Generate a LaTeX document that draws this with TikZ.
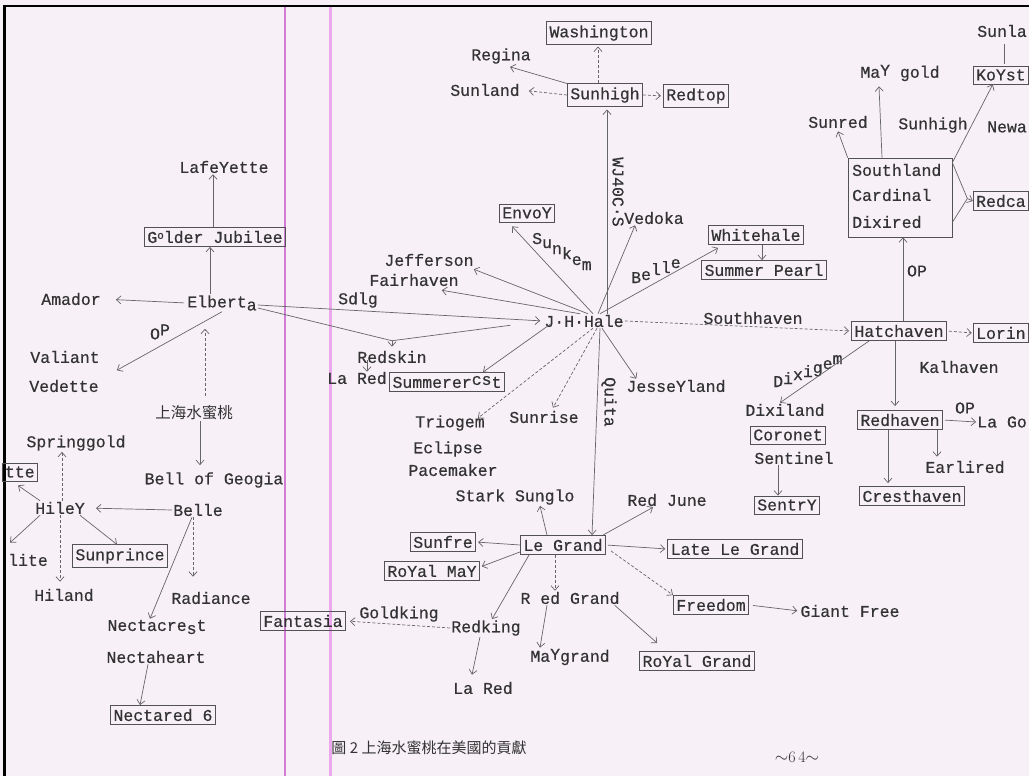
\documentclass[tikz,border=0pt]{standalone}
\usepackage{fontspec}
\usetikzlibrary{arrows.meta}
\newfontfamily\tw[FakeBold=0.5]{Liberation Mono}
\newfontfamily\cjk{Noto Sans CJK TC}
\definecolor{bg}{HTML}{F7F0F7}
\definecolor{ink}{HTML}{333333}
\definecolor{lineink}{HTML}{666666}
\definecolor{pinkthin}{HTML}{D27CD6}
\definecolor{pinkthick}{HTML}{EBA8EC}
\tikzset{
 t/.style={font=\tw\fontsize{16.5}{18}\selectfont, text=ink, inner sep=1pt},
 bx/.style={t, draw=ink!85, line width=0.7pt, inner xsep=3pt, inner ysep=3.5pt},
 ln/.style={draw=lineink, line width=0.7pt},
 e/.style={ln, -{Straight Barb[length=4.5pt,width=8pt]}},
 de/.style={e, dash pattern=on 3pt off 2pt},
 dl/.style={ln, dash pattern=on 3pt off 2pt},
 cj/.style={font=\cjk\fontsize{15.5}{17}\selectfont, text=ink, inner sep=1pt},
}
\begin{document}
\begin{tikzpicture}[x=1pt,y=-1pt]
\useasboundingbox (0,0) rectangle (1029,776);
\fill[bg] (0,0) rectangle (1029,776);
% frame and pink margin lines
\draw[line width=2.5pt] (4.5,776) -- (4.5,6) -- (1029,6);
\draw[line width=1.2pt, pinkthin] (285,7) -- (285,776);
\draw[line width=3pt, pinkthick] (330,7) -- (330,776);

% ---------- left part ----------
\node[t] (lafayette) at (224,167) {LafeYette};
\node[bx] (golden) at (215,237) {G\raisebox{4pt}{\fontsize{11}{11}\selectfont o}lder Jubilee};
\node[t] (amador) at (71,299) {Amador};
\node[t] (elberta) at (222,303) {Elbert\raisebox{-3pt}{a}};
\node[t] (valiant) at (65,357) {Valiant};
\node[t] (vedette) at (64,386) {Vedette};
\node[cj] (shanghai) at (194,413) {上海水蜜桃};
\node[t] (bellgeo) at (214,480) {Bell of Geogia};
\node[t] (springgold) at (76,443) {Springgold};
\node[bx, anchor=east] (tte) at (38,472) {tte};
\node[t] (hiley) at (60,508) {HileY};
\node[t] (belle) at (198,510) {Belle};
\node[t, anchor=west] (lite) at (7,560) {lite};
\node[bx] (sunprince) at (120,556) {Sunprince};
\node[t] (hiland) at (64,595) {Hiland};
\node[t] (radiance) at (211,598) {Radiance};
\node[t] (nectacrest) at (157,627) {Nectacre\raisebox{-3pt}{s}t};
\node[t] (nectaheart) at (156,657) {Nectaheart};
\node[bx] (nectared) at (163,715) {Nectared 6};
\node[bx] (fantasia) at (303,621) {Fantasia};

% ---------- top middle ----------
\node[bx] (washington) at (599,33) {Washington};
\node[t] (regina) at (501,56) {Regina};
\node[t] (sunland) at (485,90) {Sunland};
\node[bx] (sunhigh) at (605,95) {Sunhigh};
\node[bx] (redtop) at (696,96) {Redtop};
\node[t, rotate=-90] (wj) at (618,192) {WJ40C·S};
\node[bx] (envoy) at (527,213) {EnvoY};
\node[t] (vedoka) at (654,218) {Vedoka};
\node[bx] (whitehale) at (756,235) {Whitehale};
\node[bx] (summerpearl) at (764,270) {Summer Pearl};
\node[t] (jefferson) at (429,260) {Jefferson};
\node[t] (fairhaven) at (414,280) {Fairhaven};
\node[t] (sdlg) at (358,300) {Sdlg};
\node[t] (hale) at (584,321) {J·H·Hale};
\node[t] (southhaven) at (753,318) {Southhaven};
\node[t] (redskin) at (392,357) {Redskin};
\node[t] (lared1) at (357,378) {La Red};
\node[bx] (summercrest) at (447,382) {Summerer\raisebox{3pt}{cs}t};
\node[t] (triogem) at (450,423) {Triogem};
\node[t] (sunrise) at (544,417) {Sunrise};
\node[t] (eclipse) at (448,449) {Eclipse};
\node[t] (pacemaker) at (453,470) {Pacemaker};
\node[t] (starksunglo) at (515,497) {Stark Sunglo};
\node[t] (jesseyland) at (676,386) {JesseYland};
\node[t, rotate=-90] (quita) at (609,402) {Quita};
\node[t] (redjune) at (667,500) {Red June};
\node[t, anchor=base west] (sunkem) at (531,244) {S\raisebox{-4pt}{u}\raisebox{-10pt}{n}\raisebox{-15pt}{k}\raisebox{-21pt}{e}\raisebox{-26pt}{m}};
\node[t, anchor=base west] (bellelbl) at (630,283) {B\raisebox{3pt}{e}\raisebox{8pt}{l}\raisebox{10pt}{l}\raisebox{15pt}{e}};

% ---------- right part ----------
\node[t, anchor=east] (sunla) at (1028,31) {Sunla};
\node[bx, anchor=east] (keystone) at (1029,75) {KoYst};
\node[t] (maygold) at (900,73) {Ma\raisebox{2pt}{Y} gold};
\node[t] (sunred) at (838,122) {Sunred};
\node[t] (sunhigh2) at (933,125) {Sunhigh};
\node[t, anchor=east] (newa) at (1028,127) {Newa};
\node[draw=ink!85, line width=0.7pt, minimum width=104pt, minimum height=79pt, inner sep=0pt] (sgrp) at (900,197.5) {};
\node[t, anchor=west] (southland) at (851,170) {Southland};
\node[t, anchor=west] (cardinal) at (851,195) {Cardinal};
\node[t, anchor=west] (dixired) at (851,222) {Dixired};
\node[bx, anchor=east] (redca) at (1029,201) {Redca};
\node[t] (op1) at (917,271) {OP};
\node[bx] (hatchaven) at (899,331) {Hatchaven};
\node[bx, anchor=east] (lorin) at (1029,333) {Lorin};
\node[t, anchor=base west] (dixigem) at (772,387) {D\raisebox{3pt}{i}\raisebox{7pt}{x}\raisebox{10pt}{i}\raisebox{14pt}{g}\raisebox{18pt}{e}\raisebox{23pt}{m}};
\node[t] (dixiland) at (785,410) {Dixiland};
\node[bx] (coronet) at (788,435) {Coronet};
\node[t] (sentinel) at (794,458) {Sentinel};
\node[bx] (sentry) at (787,505) {SentrY};
\node[t] (kalhaven) at (959,367) {Kalhaven};
\node[bx] (redhaven) at (900,420) {Redhaven};
\node[t] (op2) at (965,408) {OP};
\node[t, anchor=east] (lago) at (1028,422) {La Go};
\node[t] (earlired) at (965,467) {Earlired};
\node[bx] (cresthaven) at (912,496) {Cresthaven};

% ---------- bottom middle ----------
\node[bx] (legrand) at (563,545) {Le  Grand};
\node[bx] (sunfre) at (443,542) {Sunfre};
\node[bx] (royalmay) at (432,571) {RoYal  MaY};
\node[bx] (lategrand) at (735,549) {Late Le Grand};
\node[t] (redgrand) at (570,598) {R ed Grand};
\node[t] (maygrand) at (570,657) {Ma\raisebox{2pt}{Y}grand};
\node[bx] (royalgrand) at (697,661) {RoYal Grand};
\node[t] (redking) at (486,628) {Redking};
\node[t] (goldking) at (399,614) {Goldking};
\node[t] (lared2) at (483,688) {La Red};
\node[bx] (freedom) at (711,605) {Freedom};
\node[t] (giantfree) at (850,611) {Giant  Free};
\node[font=\cjk\fontsize{15}{17}\selectfont, text=ink] (caption) at (429,748) {圖 2 上海水蜜桃在美國的貢獻};
\node[font=\fontsize{16}{18}\selectfont, text=ink] (pagenum) at (797,757) {$\sim$6\,4$\sim$};
\node[t] (op3) at (160,332) {O\raisebox{4pt}{P}};

% ---------- connectors: left ----------
\draw[e] ([xshift=-2pt]golden.north) -- ([xshift=-2pt]golden.north |- lafayette.south);
\draw[e] ([xshift=-12pt]elberta.north) -- ([xshift=-12pt]elberta.north |- golden.south);
\draw[e, shorten <=2pt, shorten >=14pt] (elberta.west) -- (amador.east);
\coordinate (opend) at ([xshift=16pt,yshift=-6pt]valiant.south east);
\draw[e] (elberta.south) -- (opend);
\draw[de, shorten <=9pt, shorten >=17pt] ([xshift=11pt]shanghai.north) -- ([xshift=11pt]shanghai.north |- elberta.south);
\draw[e, shorten >=6pt] ([xshift=6pt]shanghai.south) -- ([xshift=6pt]shanghai.south |- bellgeo.north);
\draw[e, shorten >=3pt] ([yshift=-2pt]elberta.east) -- (hale.west);
\coordinate (rsk) at ([yshift=9pt]redskin.north);
\draw[ln] ([yshift=-5pt]elberta.east) -- (rsk);
\draw[ln, shorten <=33pt] (hale.west) -- (rsk);
\draw[e] (rsk) -- ([yshift=3pt]redskin.north);
\draw[e] ([xshift=-25pt,yshift=4pt]redskin.south) -- ([xshift=-25pt,yshift=-1pt]redskin.south |- lared1.north);
\draw[e, shorten >=10pt] (belle.west) -- (hiley.east);
\draw[e] ([xshift=6pt]hiley.north west) -- ([xshift=-20pt,yshift=-4pt]tte.south east);
\draw[de] ([xshift=2pt]hiley.north) -- ([xshift=2pt]hiley.north |- springgold.south);
\draw[e] ([xshift=6pt]hiley.south west) -- ([xshift=-18pt,yshift=10pt]lite.north);
\draw[de, shorten >=6pt] (hiley.south) -- (hiley.south |- hiland.north);
\draw[e] ([xshift=-6pt]hiley.south east) -- ([xshift=-3pt]sunprince.north);
\draw[de, shorten >=14pt] ([xshift=-5pt]belle.south) -- ([xshift=-5pt]belle.south |- radiance.north);
\draw[e] ([xshift=-6pt]belle.south) -- ([xshift=-7pt]nectacrest.north);
\draw[e] ([xshift=-8pt]nectaheart.south) -- ([xshift=-23pt]nectared.north);

% ---------- connectors: J.H.Hale hub ----------
\draw[e, shorten >=3pt] ([xshift=23pt]hale.north) -- ([xshift=2pt]sunhigh.south);
\draw[de, shorten >=2pt] ([xshift=-7pt]sunhigh.north) -- ([xshift=-7pt]sunhigh.north |- washington.south);
\draw[de, shorten >=8pt] (sunhigh.west) -- (sunland.east);
\draw[de, shorten >=2pt] (sunhigh.east) -- (redtop.west);
\draw[e] (sunhigh.north west) -- ([xshift=9pt,yshift=-2pt]regina.south);
\draw[e] ([xshift=9pt]hale.north) -- ([xshift=-15pt,yshift=-4pt]envoy.south);
\draw[e] ([xshift=4pt]hale.north) -- ([xshift=-1pt,yshift=-2pt]jefferson.south east);
\draw[e] ([xshift=-4pt]hale.north) -- ([xshift=-18pt,yshift=-3pt]fairhaven.south east);
\draw[e] ([xshift=14pt]hale.north) -- ([xshift=12pt]vedoka.south west);
\draw[e] ([xshift=16pt]hale.north) -- ([xshift=10pt,yshift=-3pt]whitehale.south west);
\draw[e] ([xshift=6pt]whitehale.south) -- ([xshift=6pt]whitehale.south |- summerpearl.north);
\draw[de, shorten >=2pt] (hale.east) -- (hatchaven.west);
\draw[e] ([xshift=7pt,yshift=4pt]hale.south west) -- ([xshift=36pt]summercrest.north);
\draw[de] ([xshift=9pt]hale.south) -- ([xshift=-8pt,yshift=-4pt]triogem.north east);
\draw[de] ([xshift=13pt]hale.south) -- ([xshift=9pt,yshift=2pt]sunrise.north);
\draw[e] ([xshift=18pt]hale.south) -- ([xshift=11pt]jesseyland.north west);
\draw[e] ([xshift=16pt]hale.south) -- ([xshift=29pt]legrand.north);

% ---------- connectors: right ----------
\draw[e] ([xshift=4pt]hatchaven.north) -- ([xshift=4pt]hatchaven.north |- sgrp.south);
\draw[e] ([xshift=-18pt]sgrp.north) -- ([xshift=-21pt,yshift=-4pt]maygold.south);
\draw[e] (sgrp.north west) -- ([yshift=-2pt]sunred.south);
\draw[e] ([yshift=-5pt]sgrp.north east) -- ([xshift=20pt]keystone.south west);
\draw[ln, shorten <=2pt] ([xshift=32pt]keystone.north west) -- ([xshift=32pt,yshift=-6pt]keystone.north west |- sunla.south);
\coordinate (brk) at ([xshift=15pt,yshift=-1pt]sgrp.east);
\draw[ln] ([yshift=-5pt]sgrp.north east) -- (brk) -- ([yshift=15pt]sgrp.south east);
\draw[e] (brk) -- (redca.west);
\draw[de, shorten <=2pt, shorten >=1pt] (hatchaven.east) -- (lorin.west);
\draw[e] ([xshift=18pt]hatchaven.south west) -- ([xshift=-5pt]dixiland.north);
\draw[e] ([xshift=-16pt]sentinel.south) -- ([xshift=-16pt]sentinel.south |- sentry.north);
\draw[e, shorten >=4pt] ([xshift=-4pt]hatchaven.south) -- ([xshift=-4pt]hatchaven.south |- redhaven.north);
\draw[e, shorten <=2pt] (redhaven.east) -- (lago.west);
\draw[e, shorten >=3pt] ([xshift=-12pt]redhaven.south) -- ([xshift=-12pt]redhaven.south |- cresthaven.north);
\draw[e, shorten >=3pt] ([xshift=37pt]redhaven.south) -- ([xshift=37pt]redhaven.south |- earlired.north);

% ---------- connectors: bottom ----------
\draw[e, shorten >=2pt] (legrand.west) -- (sunfre.east);
\draw[e, shorten >=2pt] ([yshift=3pt]legrand.south west) -- ([yshift=-6pt]royalmay.north east);
\draw[e, shorten <=2pt, shorten >=2pt] (legrand.east) -- (lategrand.west);
\draw[e] ([xshift=9pt]legrand.south west) -- ([xshift=6pt]redking.north);
\draw[de] ([xshift=-8pt]legrand.south) -- ([xshift=-8pt]legrand.south |- redgrand.north);
\draw[e] ([xshift=-23pt]redgrand.south) -- ([xshift=-30pt]maygrand.north);
\draw[e] ([xshift=-6pt]redgrand.south east) -- ([xshift=18pt,yshift=8pt]royalgrand.north west);
\draw[de, shorten >=4pt] (redking.west) -- (fantasia.east);
\draw[e] ([xshift=-6pt]redking.south) -- ([xshift=-11pt,yshift=6pt]lared2.north);
\draw[de] ([xshift=5pt,yshift=4pt]legrand.south east) -- (freedom.north west);
\draw[e, shorten <=4pt, shorten >=2pt] (freedom.east) -- (giantfree.west);
\draw[e] ([xshift=-16pt]legrand.north) -- ([xshift=25pt]starksunglo.south);
\draw[e] ([xshift=40pt]legrand.north) -- ([xshift=-14pt]redjune.south);
\end{tikzpicture}
\end{document}
